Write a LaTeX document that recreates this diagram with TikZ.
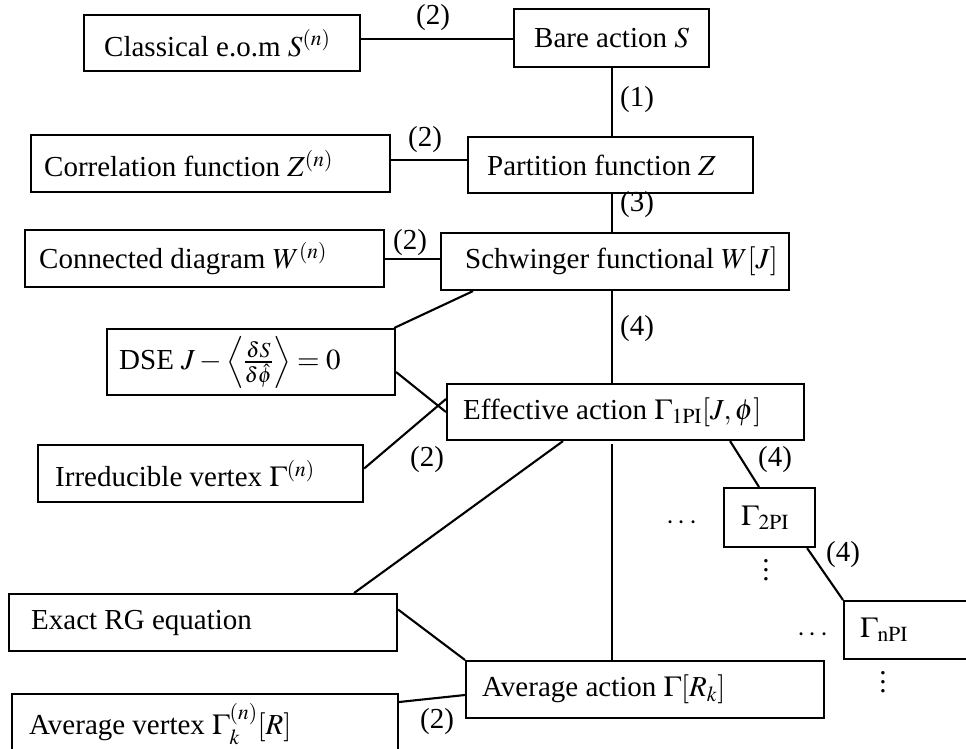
\documentclass[tikz,border=0pt]{standalone}
\usepackage{mathptmx}
\usepackage[no-math]{fontspec}
\setmainfont{Liberation Serif}
\usetikzlibrary{calc}
\newcommand\bigfont{\fontsize{29pt}{34pt}\selectfont}
% vertical continuation dots built from three full stops
\newcommand\colvdots{\vbox{\baselineskip=9pt\lineskiplimit=-20pt\hbox{.}\hbox{.}\hbox{.}}}
\tikzset{
  box/.style={draw, line width=2.1pt, anchor=north west, inner sep=0pt},
  txt/.style={font=\bigfont, inner sep=0pt, anchor=west},
  lbl/.style={font=\bigfont, inner sep=0pt},
  link/.style={line width=2.1pt},
}
% \mkbox{name}{x}{y}{width}{height}{left pad}{text}
\newcommand\mkbox[7]{%
  \node[box, minimum width=#4pt, minimum height=#5pt] (#1) at (#2,#3) {};
  \node[txt] (#1-t) at ([xshift=#6pt]#1.west) {#7};}
\begin{document}
\begin{tikzpicture}[x=1pt, y=-1pt]
\useasboundingbox (0,0) rectangle (966,749);
\coordinate (spine) at (612,0);

\mkbox{cls}{83}{14}{276}{56}{21}{Classical e.o.m $S^{(n)}$}
\mkbox{bare}{513}{8}{195}{58}{21}{Bare action $S$}
\mkbox{corr}{30}{134}{359}{57}{14}{Correlation function $Z^{(n)}$}
\mkbox{part}{467}{136}{285}{56}{20}{Partition function $Z$}
\mkbox{conn}{24}{229}{359}{57}{15}{Connected diagram $W^{(n)}$}
\mkbox{sch}{440}{232}{348}{57}{25}{Schwinger functional $W[J]$}
\mkbox{dse}{106}{328}{288}{66}{13}{DSE $J-\left\langle\frac{\delta S}{\delta\hat{\phi}}\right\rangle=0$}
\mkbox{eff}{446}{383}{357}{56}{17}{Effective action $\Gamma_{\mathrm{1PI}}[J,\phi]$}
\mkbox{irr}{37}{444}{325}{57}{18}{Irreducible vertex $\Gamma^{(n)}$}
\mkbox{gtwo}{723}{487}{91}{59}{18}{$\Gamma_{\mathrm{2PI}}$}
\mkbox{exact}{8}{593}{388}{57}{23}{Exact RG equation}
\mkbox{gn}{843}{600}{130}{58}{17}{$\Gamma_{\mathrm{nPI}}$}
\mkbox{avg}{465}{660}{358}{57}{17}{Average action $\Gamma[R_k]$}
\mkbox{avgv}{11}{693}{386}{60}{18}{Average vertex $\Gamma^{(n)}_k[R]$}

% main chain along the spine
\draw[link] (bare.south -| spine) -- (part.north -| spine);
\draw[link] (part.south -| spine) -- (sch.north -| spine);
\draw[link] (sch.south -| spine) -- (eff.north -| spine);
\draw[link] ([yshift=-3pt]eff.south -| spine) -- (avg.north -| spine);

% side branches
\draw[link] ([yshift=-1pt]bare.west) -- ([yshift=-1pt]bare.west -| cls.east);
\draw[link] ([yshift=3.5pt]corr.east) -- ([yshift=3.5pt]corr.east -| part.west);
\draw[link] (conn.east) -- (conn.east -| sch.west);
\draw[link] ([xshift=-2pt]dse.north east) -- ([xshift=33pt]sch.south west);
\draw[link] ([yshift=-10pt]dse.east) -- (eff.west);
\draw[link] ([yshift=5pt]irr.east) -- ([yshift=-16pt]eff.north west);
\draw[link] ([xshift=117pt]eff.south west) -- ([xshift=-44pt]exact.north east);
\draw[link] ([xshift=-75pt]eff.south east) -- ([xshift=36pt]gtwo.north west);
\draw[link] ([xshift=-9pt]gtwo.south east) -- (gn.north west);
\draw[link] ([yshift=13pt]exact.east) -- (avg.north west);
\draw[link] ([yshift=-9pt]avgv.north east) -- ([yshift=-35pt]avg.north west);

% labels
\node[lbl] (l1) at (433,18) {(2)};
\node[lbl] (l2) at (637,100) {(1)};
\node[lbl] (l3) at (425,140) {(2)};
\node[lbl] (l4) at (637,205) {(3)};
\node[lbl] (l5) at (410,243) {(2)};
\node[lbl] (l6) at (637,329) {(4)};
\node[lbl] (l7) at (427,460) {(2)};
\node[lbl] (l8) at (775,460) {(4)};
\node[lbl] (l9) at (843,555) {(4)};
\node[lbl] (l10) at (437,722) {(2)};

% continuation dots
\node[lbl] (d1) at (682,523) {$\cdots$};
\node[lbl] (d2) at (766,570) {\colvdots};
\node[lbl] (d3) at (813,635) {$\cdots$};
\node[lbl] (d4) at (883,682) {\colvdots};
\end{tikzpicture}
\end{document}
